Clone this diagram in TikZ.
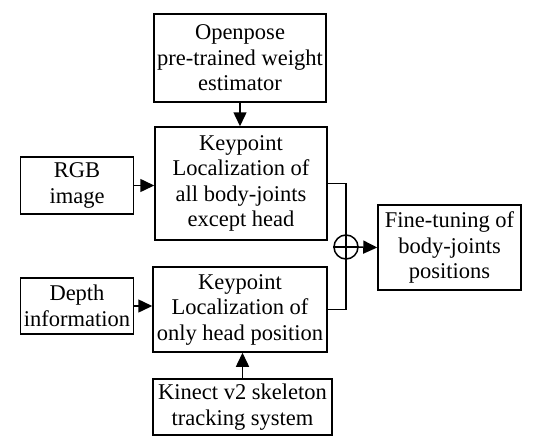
\documentclass[tikz,border=0pt]{standalone}
\usepackage{fontspec}
\setmainfont{Liberation Serif}
\newfontfamily\tnr{Liberation Serif}
\usetikzlibrary{arrows.meta}
\begin{document}
\begin{tikzpicture}[x=1pt,y=-1pt,
  box/.style={draw, line width=1.5pt, align=center, inner sep=0pt, font=\tnr\fontsize{22.5}{25.5}\selectfont},
  arr/.style={line width=1.5pt, -{Triangle[length=14pt,width=13pt]}},
  ln/.style={line width=1.5pt}]
\useasboundingbox (0,0) rectangle (551,444);
\node[box, minimum width=172, minimum height=88] (op) at (240,58) {Openpose\\pre-trained weight\\estimator};
\node[box, minimum width=172, minimum height=113] (k1) at (241,183.5) {Keypoint\\Localization of\\all body-joints\\except head};
\node[box, minimum width=113, minimum height=57] (rgb) at (77,185.5) {RGB\\image};
\node[box, minimum width=113, minimum height=56] (dp) at (77,306) {Depth\\information};
\node[box, minimum width=174, minimum height=85] (k2) at (240,309.5) {Keypoint\\Localization of\\only head position};
\node[box, minimum width=179, minimum height=56] (kin) at (242.5,407) {Kinect v2 skeleton\\tracking system};
\node[box, minimum width=143, minimum height=85] (ft) at (449.5,247.5) {Fine-tuning of\\body-joints\\positions};
\node[draw, circle, line width=1.5pt, minimum size=24pt, inner sep=0pt] (sum) at (346,247) {};
\draw[ln] (sum.north) -- (sum.south) (sum.west) -- (sum.east);
\draw[ln] (k1.east) -| (sum.north);
\draw[ln] (k2.east) -| (sum.south);
\draw[arr] (sum.east) -- (ft.west);
\draw[arr] (rgb.east) -- (rgb.east -| k1.west);
\draw[arr] (dp.east) -- (dp.east -| k2.west);
\draw[arr] (op.south) -- (op.south |- k1.north);
\draw[arr] (kin.north) -- (kin.north |- k2.south);
\end{tikzpicture}
\end{document}
